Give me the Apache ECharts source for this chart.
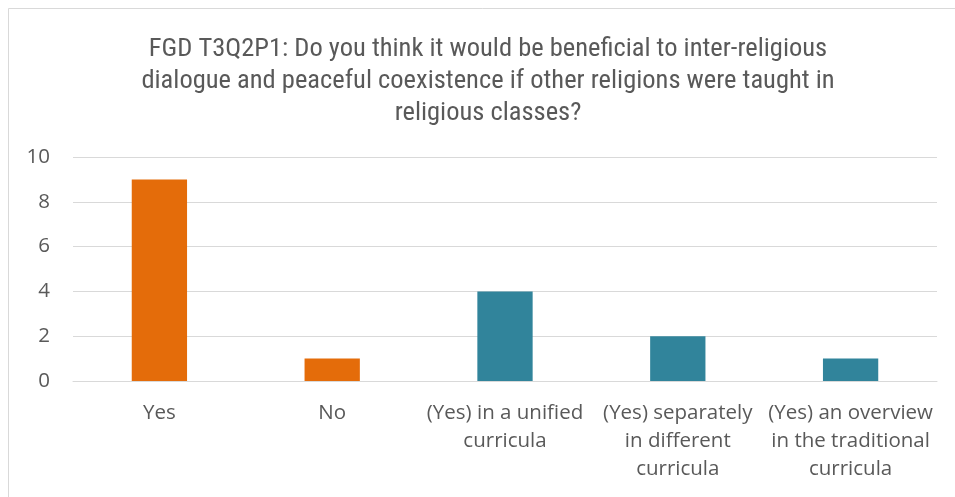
<!DOCTYPE html>
<html>
<head>
<meta charset="utf-8">
<script src="https://cdn.jsdelivr.net/npm/echarts@6/dist/echarts.min.js"></script>
<style>
html,body{margin:0;padding:0;background:#fff;}
#c{width:955px;height:497px;}
</style>
</head>
<body>
<div id="c"></div>
<script>
const titleLines = [
  "FGD T3Q2P1: Do you think it would be beneficial to inter-religious",
  "dialogue and peaceful coexistence if other religions were taught in",
  "religious classes?"
];
const categories = [
  "Yes",
  "No",
  "(Yes) in a unified\ncurricula",
  "(Yes) separately\nin different\ncurricula",
  "(Yes) an overview\nin the traditional\ncurricula"
];
const values = [9, 1, 4, 2, 1];
const barColors = ["#E46C0A", "#E46C0A", "#31849B", "#31849B", "#31849B"];
const yTicks = {min: 0, max: 10, interval: 2};

const chart = echarts.init(document.getElementById('c'), null, {renderer: 'canvas'});
chart.setOption({
  animation: false,
  backgroundColor: '#fff',
  graphic: [
    {type: 'rect', shape: {x: 8.5, y: 8.5, width: 1000, height: 600},
     style: {fill: 'none', stroke: '#d9d9d9', lineWidth: 1}, silent: true},
    {type: 'text', x: 488, y: 33,
     style: {text: titleLines.join('\n'), textAlign: 'center', fill: '#595959',
             font: '26.5px "Roboto Condensed", "DejaVu Sans Condensed", sans-serif',
             lineHeight: 32}}
  ],
  grid: {left: 73, right: 18, top: 157, bottom: 116, containLabel: false},
  xAxis: {
    type: 'category',
    data: categories,
    axisLine: {show: true, lineStyle: {color: '#d9d9d9', width: 1}},
    axisTick: {show: false},
    axisLabel: {color: '#595959', fontSize: 20.5, fontFamily: '"Open Sans", sans-serif',
                interval: 0, margin: 18, lineHeight: 28, align: 'center'}
  },
  yAxis: {
    type: 'value',
    min: yTicks.min, max: yTicks.max, interval: yTicks.interval,
    axisLine: {show: false},
    axisTick: {show: false},
    splitLine: {lineStyle: {color: '#d9d9d9', width: 1}},
    axisLabel: {color: '#595959', fontSize: 20.5, fontFamily: '"Open Sans", sans-serif', margin: 23}
  },
  series: [{
    type: 'bar',
    data: values.map((v, i) => ({value: v, itemStyle: {color: barColors[i]}})),
    barWidth: '32%'
  }]
});
</script>
</body>
</html>
